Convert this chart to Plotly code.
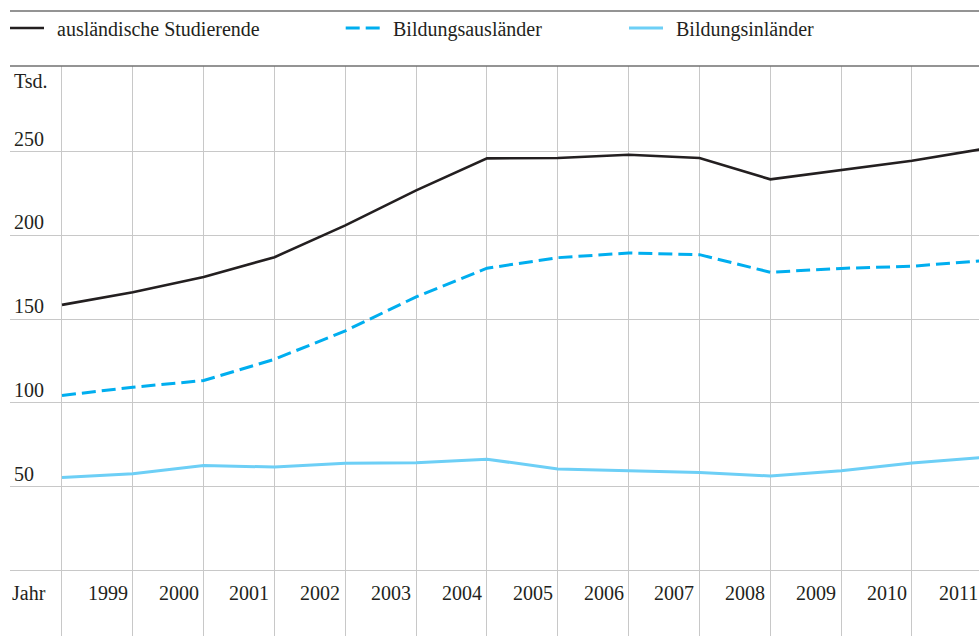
import plotly.graph_objects as go

# ---- data (thousands) ----
years = [1998, 1999, 2000, 2001, 2002, 2003, 2004, 2005, 2006, 2007, 2008, 2009, 2010, 2011]
auslaendische_studierende = [158.5, 166.0, 175.2, 187.0, 206.0, 226.9, 246.0, 246.2, 248.2, 246.2, 233.5, 239.0, 244.6, 251.6]
bildungsauslaender = [104.4, 109.3, 113.3, 126.0, 143.0, 163.3, 180.4, 186.7, 189.5, 188.5, 178.0, 180.3, 181.6, 184.9]
bildungsinlaender = [55.4, 57.6, 62.6, 61.6, 63.9, 64.2, 66.3, 60.5, 59.4, 58.4, 56.3, 59.4, 64.0, 67.4]

x_tick_years = [1999, 2000, 2001, 2002, 2003, 2004, 2005, 2006, 2007, 2008, 2009, 2010, 2011]
x_tick_labels = ["1999", "2000", "2001", "2002", "2003", "2004", "2005", "2006", "2007", "2008", "2009", "2010", "2011"]
y_tick_values = [50, 100, 150, 200, 250]
y_tick_labels = ["50", "100", "150", "200", "250"]

series_names = ["ausländische Studierende", "Bildungsausländer", "Bildungsinländer"]
series_values = [auslaendische_studierende, bildungsauslaender, bildungsinlaender]

# ---- styles ----
FONT = "Liberation Serif, Times New Roman, Tinos, serif"
FS = 20
TXT = "#231f20"
colors = ["#231f20", "#00aeef", "#6dcff6"]
widths = [2.6, 3.0, 3.0]
dashes = ["solid", "14px,6px", "solid"]
GRID = "#c8c8c8"
RULE = "#707070"

W, H = 979, 636
ML, MR, MT, MB = 10, 0, 66, 0
plot_h = H - MT - MB
plot_w = W - ML - MR
X_RANGE = [1997.266, 2010.946]
Y_RANGE = [-39.3, 301.2]

def py(pixel_y):
    """pixel y (from top) -> paper y"""
    return (H - MB - pixel_y) / plot_h

def px(pixel_x):
    return (pixel_x - ML) / plot_w

def xdata_to_paper(v):
    return (v - X_RANGE[0]) / (X_RANGE[1] - X_RANGE[0])

fig = go.Figure()
for name, vals, c, w, d in zip(series_names, series_values, colors, widths, dashes):
    fig.add_trace(go.Scatter(x=years, y=vals, mode="lines", name=name,
                             line=dict(color=c, width=w, dash=d),
                             showlegend=False, hoverinfo="skip"))

fig.update_layout(
    width=W, height=H,
    margin=dict(l=ML, r=MR, t=MT, b=MB, pad=0),
    paper_bgcolor="white", plot_bgcolor="white",
    font=dict(family=FONT, size=FS, color=TXT),
    xaxis=dict(range=X_RANGE, tickvals=years, showticklabels=False,
               showgrid=True, gridcolor=GRID, gridwidth=1.2, zeroline=False,
               showline=False, ticks=""),
    yaxis=dict(range=Y_RANGE, tickvals=[0] + y_tick_values, showticklabels=False,
               showgrid=True, gridcolor=GRID, gridwidth=1.2, zeroline=False,
               showline=False, ticks=""),
)

shapes = []
# top rules
shapes.append(dict(type="line", xref="paper", yref="paper", x0=0, x1=1,
                   y0=py(11), y1=py(11), line=dict(color=RULE, width=1.5)))
shapes.append(dict(type="line", xref="paper", yref="paper", x0=0, x1=1,
                   y0=1, y1=1, line=dict(color=RULE, width=1.5)))

annotations = []
# legend (manual)
legend_sample_x = [10, 345.7, 629]
legend_text_x = [55, 391, 674]
for name, c, w, d, sx, tx in zip(series_names, colors, widths, dashes, legend_sample_x, legend_text_x):
    shapes.append(dict(type="line", xref="paper", yref="paper",
                       x0=px(sx), x1=px(sx + 34),
                       y0=py(28), y1=py(28), line=dict(color=c, width=w, dash=d)))
    annotations.append(dict(text=name, xref="paper", yref="paper",
                            x=px(tx), y=py(29), xanchor="left", yanchor="middle",
                            showarrow=False))

# y axis labels
for v, t in zip(y_tick_values, y_tick_labels):
    annotations.append(dict(text=t, xref="paper", yref="y", x=0, y=v, xanchor="left",
                            yanchor="bottom", xshift=2, yshift=0, showarrow=False))
annotations.append(dict(text="Tsd.", xref="paper", yref="paper", x=0, y=py(81),
                        xanchor="left", yanchor="middle", xshift=2, showarrow=False))

# x axis labels (placed just left of each year's gridline)
for yr, t in zip(x_tick_years, x_tick_labels):
    annotations.append(dict(text=t, xref="paper", yref="paper", x=xdata_to_paper(yr), y=py(593),
                            xanchor="right", yanchor="middle", xshift=-3, showarrow=False))
annotations.append(dict(text="Jahr", xref="paper", yref="paper", x=0, y=py(593),
                        xanchor="left", yanchor="middle", xshift=0, showarrow=False))

fig.update_layout(shapes=shapes, annotations=annotations)
fig.write_html("out.html", config={"displayModeBar": False},
               post_script="document.body.style.margin='0';document.body.style.padding='0';document.body.style.overflow='hidden';")
